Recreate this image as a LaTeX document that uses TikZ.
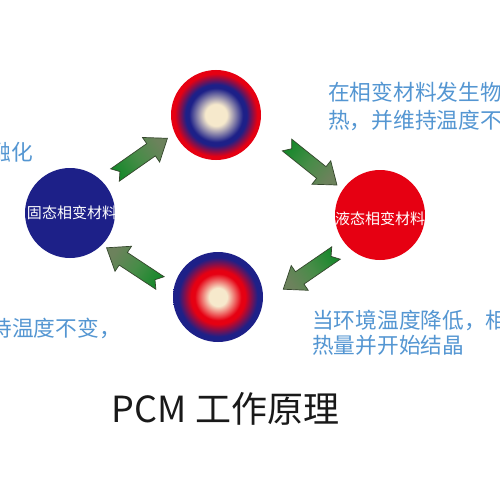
\documentclass[tikz,border=0pt]{standalone}
\usepackage{fontspec}
\setmainfont{Noto Sans CJK SC}
\definecolor{navy}{RGB}{29,32,136}
\definecolor{pcmred}{RGB}{230,0,18}
\definecolor{cream}{RGB}{246,233,204}
\definecolor{txtblue}{RGB}{84,150,210}
\definecolor{arrowgreen}{RGB}{24,136,44}
\definecolor{arrowmid}{RGB}{72,140,72}
\definecolor{arrowolive}{RGB}{108,130,92}
\definecolor{arrowedge}{RGB}{52,70,44}
\pgfdeclareradialshading{meltball}{\pgfpoint{0bp}{0bp}}{color(0bp)=(cream); color(6bp)=(cream); color(15bp)=(navy); color(17bp)=(navy); color(23bp)=(pcmred); color(50bp)=(pcmred)}
\pgfdeclareradialshading{freezeball}{\pgfpoint{0bp}{0bp}}{color(0bp)=(cream); color(5bp)=(cream); color(13bp)=(pcmred); color(15bp)=(pcmred); color(22bp)=(navy); color(50bp)=(navy)}
\tikzset{
  ball/.style={circle, minimum size=90pt, inner sep=0pt},
  balltext/.style={text=white, font=\fontsize{15}{18}\selectfont, inner sep=0pt},
  note/.style={text=txtblue, font=\fontsize{21.7}{26}\selectfont, inner sep=0pt, anchor=west},
  blockarrow/.style={draw=arrowedge, line width=0.7pt, line join=miter},
}
\newcommand{\pcmarrow}[3]{%
  \begin{scope}[shift={(#1)}, rotate=#2]
    \path[blockarrow, top color=arrowolive, bottom color=arrowgreen, middle color=arrowmid, shading angle=#3]
      (0,-7.5) -- (44,-7.5) -- (44,-15) -- (64,0) -- (44,15) -- (44,7.5) -- (0,7.5) -- (6,0) -- cycle;
  \end{scope}}
\begin{document}
\begin{tikzpicture}[x=1pt,y=-1pt]
  \useasboundingbox (0,0) rectangle (500,500);
  \clip (0,0) rectangle (500,500);
  \fill[white] (0,0) rectangle (500,500);
  % circles
  \node[ball, fill=navy] (solid) at (70,213) {};
  \node[ball, shading=meltball] (melt) at (216,115) {};
  \node[ball, fill=pcmred] (liquid) at (380,215) {};
  \node[ball, shading=freezeball] (freeze) at (218,297) {};
  \node[balltext] (solidlbl) at (72,213) {固态相变材料};
  \node[balltext] (liquidlbl) at (380,219) {液态相变材料};
  % arrows
  \coordinate (a1) at (115,175);
  \coordinate (a2) at (287,145);
  \coordinate (a3) at (336,253);
  \coordinate (a4) at (160,283);
  \pcmarrow{a1}{35}{-55}
  \pcmarrow{a2}{-38.7}{-128.7}
  \pcmarrow{a3}{214.5}{124.5}
  \pcmarrow{a4}{146.6}{56.6}
  % notes
  \node[note, anchor=east] (n1) at (33,152) {融化};
  \node[note] (n2a) at (328,92) {在相变材料发生物理};
  \node[note] (n2b) at (328,120) {热，并维持温度不变};
  \node[note, anchor=east] (n3) at (121,328) {持温度不变，};
  \node[note] (n4a) at (312,320) {当环境温度降低，相};
  \node[note] (n4b) at (312,345) {热量并开始结晶};
  % title
  \node[font=\fontsize{36}{40}\selectfont, inner sep=0pt, anchor=base, text=black!90] (title) at (225.5,422) {PCM 工作原理};
\end{tikzpicture}
\end{document}
